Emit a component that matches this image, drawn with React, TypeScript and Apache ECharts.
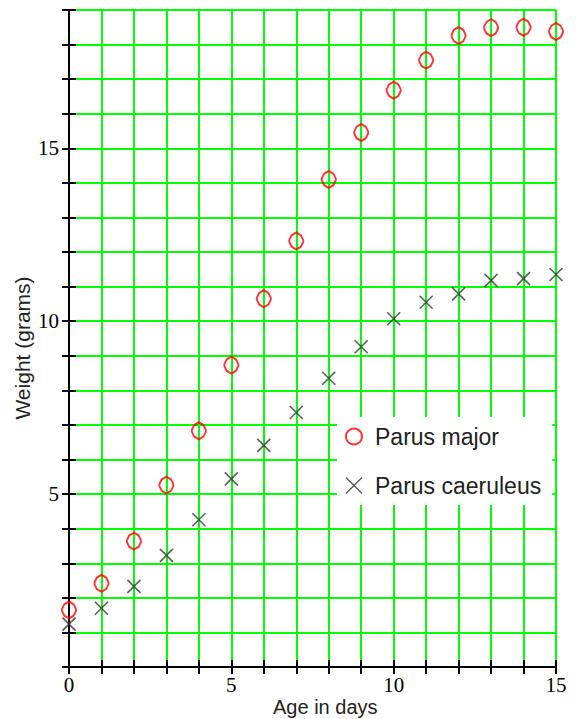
import React, { useEffect, useRef } from "react";
import * as echarts from "echarts";

const ages = [0, 1, 2, 3, 4, 5, 6, 7, 8, 9, 10, 11, 12, 13, 14, 15];
const parusMajor = [1.65, 2.42, 3.64, 5.26, 6.83, 8.73, 10.65, 12.32, 14.1, 15.46, 16.68, 17.55, 18.26, 18.49, 18.5, 18.38];
const parusCaeruleus = [1.24, 1.7, 2.33, 3.23, 4.26, 5.44, 6.41, 7.36, 8.35, 9.26, 10.07, 10.55, 10.79, 11.18, 11.23, 11.35];
const xLabels = [0, 5, 10, 15];
const yLabels = [5, 10, 15];

const DIAMOND = "path://M7,0 L11,3 L13,8 L13,10 L11,15 L7,18 L3,15 L1,10 L1,8 L3,3 Z";
const CROSS = "path://M0,0 L14,14 M14,0 L0,14";
const GREEN = "#00ff00";
const SERIF = "'Liberation Serif', 'DejaVu Serif', serif";
const SANS = "'Liberation Sans', Arial, sans-serif";

export default function App() {
  const ref = useRef<HTMLDivElement>(null);
  useEffect(() => {
    if (!ref.current) return;
    const chart = echarts.init(ref.current, null, { renderer: "svg" });
    const axisBase = (min: number, max: number, labels: number[]) => ({
      type: "value",
      min,
      max,
      interval: 1,
      axisLine: { show: true, onZero: false, lineStyle: { color: "#000", width: 2 } },
      axisTick: { show: true, inside: false, length: 7, lineStyle: { color: "#000", width: 2 } },
      splitLine: { show: true, showMinLine: false, lineStyle: { color: GREEN, width: 2 } },
      axisLabel: {
        show: true,
        color: "#000",
        fontFamily: SERIF,
        fontSize: 21,
        formatter: (v: number) => (labels.indexOf(v) >= 0 ? String(v) : ""),
      },
    });
    const innerAxis = (min: number, max: number) => ({
      type: "value",
      min,
      max,
      interval: 1,
      axisLine: { show: false, onZero: false },
      axisTick: { show: true, inside: true, length: 7, lineStyle: { color: "#000", width: 2 } },
      splitLine: { show: false },
      axisLabel: { show: false },
    });
    chart.setOption({
      animation: false,
      backgroundColor: "#fff",
      grid: { left: 69, right: 20, top: 10, bottom: 52, containLabel: false },
      xAxis: [
        { ...axisBase(0, 15, xLabels), position: "bottom", axisLabel: { ...axisBase(0, 15, xLabels).axisLabel, margin: 7 } },
        { ...innerAxis(0, 15), position: "bottom" },
      ],
      yAxis: [
        { ...axisBase(0, 19, yLabels), position: "left", axisLabel: { ...axisBase(0, 19, yLabels).axisLabel, margin: 10 } },
        { ...innerAxis(0, 19), position: "left" },
      ],
      legend: {
        orient: "vertical",
        left: 337,
        top: 417,
        padding: [8, 11, 8, 8],
        itemGap: 26,
        itemWidth: 16,
        itemHeight: 16,
        backgroundColor: "#fff",
        textStyle: { fontFamily: SANS, fontSize: 23, color: "#222", padding: [0, 0, 0, 8] },
        data: [
          {
            name: "Parus major",
            icon: "circle",
            itemStyle: { color: "rgba(0,0,0,0)", borderColor: "#ff0000", borderWidth: 2 },
          },
          {
            name: "Parus caeruleus",
            icon: CROSS,
            itemStyle: { color: "rgba(0,0,0,0)", borderColor: "#333", borderWidth: 1.5 },
          },
        ],
        z: 10,
      },
      graphic: [
        {
          type: "text",
          left: 273,
          top: 697,
          style: { text: "Age in days", font: `20px ${SANS}`, fill: "#222" },
        },
        {
          type: "text",
          x: 12,
          y: 348,
          rotation: Math.PI / 2,
          style: {
            text: "Weight (grams)",
            font: `21px ${SANS}`,
            fill: "#222",
            align: "center",
            verticalAlign: "top",
          },
        },
      ],
      series: [
        {
          name: "Parus major",
          type: "scatter",
          xAxisIndex: 0,
          yAxisIndex: 0,
          symbol: DIAMOND,
          symbolSize: [14, 17],
          symbolKeepAspect: false,
          itemStyle: { color: "rgba(0,0,0,0)", borderColor: "#ff0000", borderWidth: 2 },
          data: ages.map((a, i) => [a, parusMajor[i]]),
          z: 5,
        },
        {
          name: "Parus caeruleus",
          type: "scatter",
          xAxisIndex: 0,
          yAxisIndex: 0,
          symbol: CROSS,
          symbolSize: 13,
          itemStyle: { color: "rgba(0,0,0,0)", borderColor: "#333", borderWidth: 1.6 },
          data: ages.map((a, i) => [a, parusCaeruleus[i]]),
          z: 4,
        },
      ],
    });
    return () => chart.dispose();
  }, []);
  return <div ref={ref} style={{ position: "fixed", left: 0, top: 0, width: 576, height: 719 }} />;
}
